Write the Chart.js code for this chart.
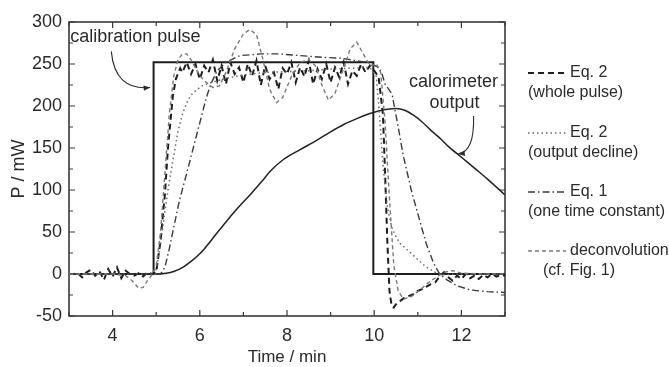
<!DOCTYPE html>
<html>
<head>
<meta charset="utf-8">
<script src="https://cdn.jsdelivr.net/npm/chart.js@4/dist/chart.umd.min.js"></script>
<style>
  html, body { margin: 0; padding: 0; background: #fff; }
  #wrap { width: 669px; height: 367px; }
</style>
</head>
<body>
<div id="wrap"><canvas id="c" width="669" height="367"></canvas></div>
<script>
// ---------- data (time in min, power in mW) ----------
const X_MIN = 3, X_MAX = 13;
const Y_MIN = -50, Y_MAX = 300;
const xTickLabels = [4, 6, 8, 10, 12];
const yTickLabels = [-50, 0, 50, 100, 150, 200, 250, 300];

const pulseT = [3, 4.94, 4.94, 9.98, 9.98, 13];
const pulseP = [0, 0, 252, 252, 0, 0];

const outputT = [3, 5.0, 5.23, 5.4, 5.61, 5.8, 6.0, 6.2, 6.38, 6.57, 6.76, 6.95, 7.15, 7.3, 7.45, 7.61, 7.91, 8.3, 8.68, 8.99, 9.3, 9.6, 9.9, 10.1, 10.3, 10.5, 10.7, 10.9, 11.1, 11.3, 11.5, 11.7, 12.0, 12.3, 12.6, 13.0];
const outputP = [0, 0, 1, 3, 8, 15, 24, 36, 48, 60, 72, 83, 94, 103, 112, 122, 136, 148, 159, 169, 178, 185, 191, 194, 196, 197, 195, 189, 181, 171, 162, 152, 139, 126, 113, 94];

const eq2WholeT = [3.0, 3.1, 3.2, 3.3, 3.4, 3.5, 3.6, 3.7, 3.8, 3.9, 4.0, 4.1, 4.2, 4.3, 4.4, 4.5, 4.6, 4.7, 4.8, 4.9, 5.0, 5.1, 5.2, 5.27, 5.38, 5.45, 5.55, 5.6, 5.7, 5.8, 5.9, 6.0, 6.1, 6.2, 6.3, 6.4, 6.5, 6.6, 6.7, 6.8, 6.9, 7.0, 7.1, 7.2, 7.3, 7.4, 7.5, 7.6, 7.7, 7.8, 7.9, 8.0, 8.1, 8.2, 8.3, 8.4, 8.5, 8.6, 8.7, 8.8, 8.9, 9.0, 9.1, 9.2, 9.3, 9.4, 9.5, 9.6, 9.7, 9.8, 9.9, 10.0, 10.1, 10.2, 10.25, 10.3, 10.35, 10.4, 10.45, 10.5, 10.6, 10.7, 10.8, 10.9, 11.0, 11.1, 11.2, 11.3, 11.4, 11.5, 11.6, 11.7, 11.8, 11.9, 12.0, 12.1, 12.2, 12.3, 12.4, 12.5, 12.6, 12.7, 12.8, 12.9, 13.0];
const eq2WholeP = [0, 0, 1, -4, 2, 5, -2, 3, -7, 6, -3, 8, -5, 4, 0, -2, 1, -3, 2, 0, 2, 40, 95, 150, 211, 232, 245, 240, 252, 238, 250, 232, 248, 240, 255, 230, 248, 226, 252, 238, 246, 228, 250, 236, 254, 225, 248, 232, 240, 220, 245, 238, 252, 228, 246, 235, 254, 226, 244, 232, 250, 228, 246, 234, 252, 226, 242, 236, 250, 240, 248, 242, 235, 190, 120, 40, -20, -38, -40, -36, -32, -28, -26, -24, -20, -18, -15, -12, -10, -3, 2, -4, -8, -2, -6, 0, -5, -2, -6, -1, -4, 0, -3, -1, -2];

const eq2DeclineT = [3, 4.98, 5.1, 5.2, 5.3, 5.4, 5.5, 5.6, 5.7, 5.8, 5.9, 6.05, 6.2, 6.4, 6.7, 7.0, 7.5, 8.0, 8.5, 9.0, 9.5, 9.9, 10.05, 10.12, 10.2, 10.3, 10.4, 10.5, 10.6, 10.8, 11.0, 11.2, 11.4, 11.6, 11.9, 12.5, 13];
const eq2DeclineP = [0, 0, 35, 75, 110, 140, 170, 190, 204, 213, 218, 224, 227, 230, 234, 237, 240, 241, 242, 244, 245, 246, 235, 190, 130, 80, 56, 44, 36, 27, 17, 8, 2, -1, 0, 0, 0];

const eq1T = [3, 5.1, 5.2, 5.3, 5.4, 5.535, 5.7, 5.85, 5.96, 6.05, 6.15, 6.26, 6.4, 6.6, 6.92, 7.4, 7.8, 8.3, 8.8, 9.22, 9.6, 9.9, 10.1, 10.18, 10.25, 10.41, 10.55, 10.67, 10.85, 11.02, 11.2, 11.37, 11.5, 11.67, 11.9, 12.2, 12.6, 13];
const eq1P = [0, 0, 8, 30, 55, 88, 120, 150, 172, 190, 210, 227, 242, 252, 260, 262, 262, 260, 258, 257, 254, 251, 246, 238, 226, 214, 175, 140, 100, 68, 35, 12, 0, -7, -14, -19, -21, -22];

const deconvT = [3, 3.5, 4.0, 4.3, 4.45, 4.6, 4.7, 4.8, 4.9, 5.0, 5.1, 5.2, 5.3, 5.4, 5.5, 5.6, 5.7, 5.8, 5.9, 6.0, 6.15, 6.3, 6.45, 6.6, 6.8, 7.0, 7.15, 7.3, 7.45, 7.6, 7.76, 7.9, 8.1, 8.3, 8.5, 8.65, 8.8, 8.95, 9.1, 9.3, 9.45, 9.6, 9.75, 9.9, 10.05, 10.15, 10.25, 10.35, 10.45, 10.55, 10.67, 10.85, 11.05, 11.25, 11.45, 11.6, 11.8, 12.0, 12.5, 13];
const deconvP = [0, 0, 0, -2, -8, -17, -16, -8, -1, 10, 50, 120, 190, 235, 255, 262, 262, 255, 245, 236, 228, 222, 224, 240, 268, 286, 291, 285, 255, 220, 204, 210, 235, 252, 255, 248, 225, 207, 215, 245, 268, 276, 262, 248, 250, 240, 180, 90, 10, -20, -30, -27, -19, -10, -3, 2, 4, 1, 0, 0];

const seriesNames = ['calibration pulse', 'calorimeter output', 'Eq. 2 (whole pulse)', 'Eq. 2 (output decline)', 'Eq. 1 (one time constant)', 'deconvolution (cf. Fig. 1)'];

// ---------- helpers ----------
const pts = (t, p) => t.map((v, i) => ({ x: v, y: p[i] }));
const FONT = '"Liberation Sans", Arial, Helvetica, sans-serif';
const INK = '#2b2b2b';

const styles = {
  pulse:   { color: '#1c1c1c', width: 2.0, dash: [] },
  output:  { color: '#222222', width: 1.5, dash: [] },
  eq2w:    { color: '#1e1e1e', width: 2.0, dash: [6, 4] },
  eq2d:    { color: '#6a6a6a', width: 1.5, dash: [1.5, 3] },
  eq1:     { color: '#3c3c3c', width: 1.4, dash: [7, 3, 1.5, 3] },
  deconv:  { color: '#7a7a7a', width: 1.4, dash: [4, 3] }
};

function ds(label, t, p, s, extra) {
  return Object.assign({
    label, data: pts(t, p),
    borderColor: s.color, borderWidth: s.width, borderDash: s.dash,
    pointRadius: 0, fill: false, tension: 0
  }, extra || {});
}

// ---------- plugins ----------
const frameTicks = {
  id: 'frameTicks',
  beforeDatasetsDraw(chart) {
    const { ctx, chartArea: a, scales: { x, y } } = chart;
    ctx.save();
    ctx.strokeStyle = '#3a3a3a';
    ctx.lineWidth = 1.2;
    ctx.setLineDash([]);
    ctx.beginPath();
    for (let v = X_MIN; v <= X_MAX; v += 1) {
      const px = x.getPixelForValue(v);
      const len = (v % 2 === 0) ? 6 : 4;
      ctx.moveTo(px, a.bottom); ctx.lineTo(px, a.bottom - len);
      ctx.moveTo(px, a.top); ctx.lineTo(px, a.top + len);
    }
    for (let v = Y_MIN; v <= Y_MAX; v += 25) {
      const py = y.getPixelForValue(v);
      const len = (v % 50 === 0) ? 6 : 4;
      ctx.moveTo(a.left, py); ctx.lineTo(a.left + len, py);
      ctx.moveTo(a.right, py); ctx.lineTo(a.right - len, py);
    }
    ctx.stroke();
    ctx.lineWidth = 1.6;
    ctx.strokeRect(a.left, a.top, a.right - a.left, a.bottom - a.top);
    ctx.restore();
  }
};

function arrowHead(ctx, fromX, fromY, toX, toY, size) {
  const ang = Math.atan2(toY - fromY, toX - fromX);
  ctx.beginPath();
  ctx.moveTo(toX, toY);
  ctx.lineTo(toX - size * Math.cos(ang - 0.4), toY - size * Math.sin(ang - 0.4));
  ctx.lineTo(toX - size * Math.cos(ang + 0.4), toY - size * Math.sin(ang + 0.4));
  ctx.closePath();
  ctx.fill();
}

const annotations = {
  id: 'annotations',
  afterDatasetsDraw(chart) {
    const { ctx, scales: { x, y } } = chart;
    const X = v => x.getPixelForValue(v), Y = v => y.getPixelForValue(v);
    ctx.save();
    ctx.fillStyle = INK;
    ctx.strokeStyle = INK;
    ctx.setLineDash([]);
    ctx.font = '18px ' + FONT;
    ctx.textBaseline = 'middle';
    // calibration pulse label
    ctx.textAlign = 'left';
    ctx.fillText('calibration pulse', X(3.03), Y(282));
    ctx.lineWidth = 1.1;
    let sx = X(3.97), sy = Y(265), cx = X(4.05), cy = Y(218), ex = X(4.86), ey = Y(222);
    ctx.beginPath(); ctx.moveTo(sx, sy); ctx.quadraticCurveTo(cx, cy, ex, ey); ctx.stroke();
    arrowHead(ctx, cx, cy, ex, ey, 7);
    // calorimeter output label
    ctx.textAlign = 'center';
    ctx.fillText('calorimeter', X(11.82), Y(229));
    ctx.fillText('output', X(11.84), Y(203));
    sx = X(12.28); sy = Y(188); cx = X(12.3); cy = Y(145); ex = X(11.93); ey = Y(143);
    ctx.beginPath(); ctx.moveTo(sx, sy); ctx.quadraticCurveTo(cx, cy, ex, ey); ctx.stroke();
    arrowHead(ctx, cx, cy, ex, ey, 7);
    ctx.restore();
  }
};

const sideLegend = {
  id: 'sideLegend',
  afterDraw(chart) {
    const { ctx } = chart;
    const entries = [
      { s: styles.eq2w,   y: 73,  head: 'Eq. 2', sub: '(whole pulse)', subX: 528 },
      { s: styles.eq2d,   y: 133, head: 'Eq. 2', sub: '(output decline)', subX: 528 },
      { s: styles.eq1,    y: 192, head: 'Eq. 1', sub: '(one time constant)', subX: 528 },
      { s: styles.deconv, y: 251, head: 'deconvolution', sub: '(cf. Fig. 1)', subX: 543 }
    ];
    ctx.save();
    ctx.font = '16px ' + FONT;
    ctx.textBaseline = 'middle';
    ctx.textAlign = 'left';
    ctx.fillStyle = INK;
    for (const e of entries) {
      ctx.strokeStyle = e.s.color;
      ctx.lineWidth = e.s.width;
      ctx.setLineDash(e.s.dash);
      ctx.beginPath(); ctx.moveTo(528, e.y); ctx.lineTo(566, e.y); ctx.stroke();
      ctx.fillText(e.head, 570, e.y);
      ctx.fillText(e.sub, e.subX, e.y + 20);
    }
    ctx.restore();
  }
};

// ---------- chart ----------
new Chart(document.getElementById('c'), {
  type: 'line',
  data: {
    datasets: [
      ds(seriesNames[5], deconvT, deconvP, styles.deconv),
      ds(seriesNames[4], eq1T, eq1P, styles.eq1),
      ds(seriesNames[3], eq2DeclineT, eq2DeclineP, styles.eq2d),
      ds(seriesNames[2], eq2WholeT, eq2WholeP, styles.eq2w),
      ds(seriesNames[1], outputT, outputP, styles.output, { cubicInterpolationMode: 'monotone' }),
      ds(seriesNames[0], pulseT, pulseP, styles.pulse)
    ]
  },
  options: {
    responsive: false,
    animation: false,
    devicePixelRatio: 1,
    layout: { padding: { left: 0, right: 164, top: 22, bottom: 0 } },
    plugins: { legend: { display: false }, tooltip: { enabled: false } },
    scales: {
      x: {
        type: 'linear', min: X_MIN, max: X_MAX,
        grid: { display: false, drawTicks: false },
        border: { display: false },
        afterBuildTicks: s => { s.ticks = xTickLabels.map(v => ({ value: v })); },
        afterFit: s => { s.height = 51; },
        ticks: { color: INK, font: { family: FONT, size: 18 }, padding: 9, maxRotation: 0 },
        title: { display: true, text: 'Time / min', color: INK, font: { family: FONT, size: 17, lineHeight: 1.0 }, padding: { top: 0, bottom: 1 } }
      },
      y: {
        type: 'linear', min: Y_MIN, max: Y_MAX,
        grid: { display: false, drawTicks: false },
        border: { display: false },
        afterBuildTicks: s => { s.ticks = yTickLabels.map(v => ({ value: v })); },
        afterFit: s => { s.width = 69; },
        ticks: { color: INK, font: { family: FONT, size: 18 }, padding: 7 },
        title: { display: true, text: 'P / mW', color: INK, font: { family: FONT, size: 18, lineHeight: 1.0 }, padding: { top: 10, bottom: 0 } }
      }
    }
  },
  plugins: [frameTicks, annotations, sideLegend]
});
</script>
</body>
</html>
